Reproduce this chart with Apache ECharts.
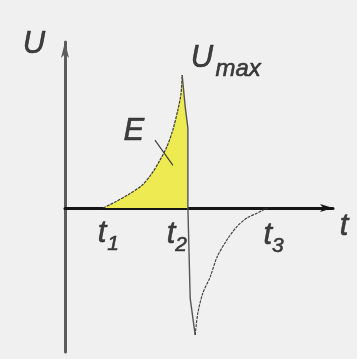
<!DOCTYPE html>
<html>
<head>
<meta charset="utf-8">
<script src="https://cdn.jsdelivr.net/npm/echarts@6/dist/echarts.min.js"></script>
<style>html,body{margin:0;padding:0;background:#f0f0f0;}#c{width:357px;height:359px;}</style>
</head>
<body>
<div id="c"></div>
<script>
// Rising exponential part (t1 -> peak at t2)
var riseX = [1.0, 1.31, 1.65, 2.01, 2.27, 2.48, 2.66, 2.82, 2.95, 3.03, 3.06];
var riseY = [0, 0.045, 0.10, 0.17, 0.26, 0.36, 0.46, 0.59, 0.74, 0.86, 1.0];
// Sharp drop after the peak, through zero, to the negative minimum
var dropX = [3.06, 3.14, 3.21, 3.21, 3.27, 3.40];
var dropY = [1.0, 0.76, 0.6, 0, -0.68, -0.955];
// Recovery back to zero at t3
var recX = [3.40, 3.47, 3.60, 3.79, 3.97, 4.23, 4.49, 4.75, 5.01, 5.28];
var recY = [-0.955, -0.79, -0.64, -0.52, -0.37, -0.24, -0.14, -0.075, -0.04, 0];
// Filled energy area E (under the rising curve up to the drop)
var fillX = riseX.concat([3.14, 3.21, 3.21]);
var fillY = riseY.concat([0.76, 0.6, 0]);
// Small pointer stroke for E
var tickX = [2.35, 2.82];
var tickY = [0.51, 0.32];
// Text labels (main letters and subscripts)
var mainLabels = [
  {text: 'U', x: -0.81, y: 1.233},
  {text: 'U', x: 3.58, y: 1.128},
  {text: 'E', x: 1.80, y: 0.579},
  {text: 't', x: 0.966, y: -0.188},
  {text: 't', x: 2.769, y: -0.195},
  {text: 't', x: 5.30, y: -0.203},
  {text: 't', x: 7.29, y: -0.135}
];
var subLabels = [
  {text: '1', x: 1.254, y: -0.271},
  {text: '2', x: 3.03, y: -0.278},
  {text: '3', x: 5.56, y: -0.286}
];
var maxLabel = {text: 'max', x: 3.93, y: 1.045};

function pairs(xs, ys){ return xs.map(function(v,i){ return [v, ys[i]]; }); }

var chart = echarts.init(document.getElementById('c'), null, {renderer:'canvas'});
var font = '"Liberation Sans", Arial, sans-serif';
function labelSeries(items, size, align){
  return {
    type: 'scatter', clip: false, silent: true,
    symbolSize: 0,
    data: items.map(function(d){ return {value:[d.x, d.y], name: d.text}; }),
    label: {
      show: true, position: 'inside', formatter: '{b}',
      color: '#111', fontSize: size, fontStyle: 'italic',
      fontFamily: font, align: align || 'center', verticalAlign: 'middle',
      textBorderWidth: 0.6, textBorderColor: '#222'
    },
    z: 10
  };
}
chart.setOption({
  backgroundColor: '#f0f0f0',
  animation: false,
  grid: {left: 65, right: 24, top: 42, bottom: 7},
  xAxis: {
    type: 'value', min: 0, max: 7,
    splitLine: {show:false}, axisTick: {show:false}, axisLabel: {show:false},
    axisLine: {show:true, onZero:true, symbol:['none','arrow'], symbolSize:[6,13],
      lineStyle:{color:'#151515', width:3}}
  },
  yAxis: {
    type: 'value', min: -1.083, max: 1.248,
    splitLine: {show:false}, axisTick: {show:false}, axisLabel: {show:false},
    axisLine: {show:true, onZero:false, symbol:['none','arrow'], symbolSize:[6,16],
      lineStyle:{color:'#5c5c5c', width:3}}
  },
  series: [
    {
      type: 'line', data: pairs(fillX, fillY), showSymbol: false, silent: true, smooth: 0.3,
      lineStyle: {width: 0}, areaStyle: {color: '#eeeb52', opacity: 1, origin: 0}, z: 1
    },
    {
      type: 'line', data: pairs(riseX, riseY), showSymbol: false, silent: true, smooth: 0.3,
      lineStyle: {color: '#3a3a3a', width: 1.2, type: [3,1]}, z: 3
    },
    {
      type: 'line', data: pairs(dropX, dropY), showSymbol: false, silent: true,
      lineStyle: {color: '#555', width: 1.4}, z: 3
    },
    {
      type: 'line', data: pairs(recX, recY), showSymbol: false, silent: true, smooth: 0.3,
      lineStyle: {color: '#3a3a3a', width: 1.1, type: [3,1]}, z: 3
    },
    {
      type: 'line', data: pairs(tickX, tickY), showSymbol: false, silent: true,
      lineStyle: {color: '#3a3a3a', width: 1.1}, z: 3
    },
    labelSeries(mainLabels, 31),
    labelSeries(subLabels, 21),
    labelSeries([maxLabel], 24, 'left')
  ]
});
</script>
</body>
</html>
